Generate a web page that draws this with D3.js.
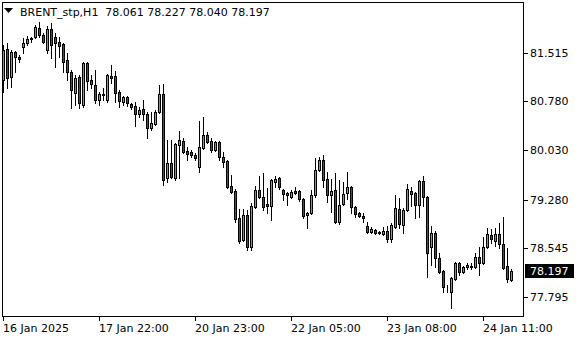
<!DOCTYPE html>
<html>
<head>
<meta charset="utf-8">
<script src="https://cdn.jsdelivr.net/npm/d3@7"></script>
<style>
  body { margin:0; background:#fff; }
  svg text { font-family:"DejaVu Sans", sans-serif; font-size:11px; fill:#000; }
</style>
</head>
<body>
<div id="chart"></div>
<script>
// BRENT_stp H1 candles (oldest first)
const OPEN = [81.103,81.576,81.149,81.530,81.454,81.606,81.667,81.728,81.759,81.896,
  81.789,81.561,81.881,81.759,81.683,81.652,81.408,81.225,80.905,81.149,
  80.722,81.362,81.103,81.027,80.798,80.875,80.798,81.164,81.164,80.920,
  80.768,80.844,80.737,80.707,80.585,80.661,80.585,80.372,80.433,80.615,
  80.890,79.609,79.838,79.609,80.112,80.173,80.021,80.006,79.960,79.777,
  80.067,80.265,80.173,80.036,80.158,79.929,79.868,79.487,79.411,78.999,
  78.664,79.045,78.557,79.167,79.426,79.320,79.213,79.182,79.548,79.609,
  79.426,79.381,79.320,79.411,79.411,79.289,79.045,79.076,79.350,79.731,
  79.884,79.594,79.350,79.426,78.938,79.213,79.381,79.472,79.167,79.076,
  79.030,78.877,78.786,78.816,78.786,78.755,78.801,78.679,78.862,79.137,
  78.893,79.121,79.411,79.381,79.198,79.564,79.320,78.557,78.771,78.390,
  78.191,77.947,77.871,78.069,78.313,78.176,78.252,78.252,78.252,78.405,
  78.313,78.557,78.740,78.649,78.755,78.603,78.268,78.061];
const HIGH = [81.637,81.667,81.561,81.545,81.484,81.744,81.774,81.759,81.942,81.988,
  81.820,81.927,81.972,81.820,81.759,81.667,81.515,81.256,81.180,81.180,
  81.378,81.378,81.180,81.256,80.920,80.981,81.195,81.332,81.240,80.951,
  80.859,80.859,80.753,80.768,80.692,80.798,80.615,80.615,80.646,81.027,
  81.042,80.189,80.189,80.143,80.326,80.219,80.082,80.036,79.990,80.478,
  80.539,80.311,80.219,80.173,80.173,80.006,79.884,79.655,79.442,79.137,
  79.137,79.121,79.228,79.487,79.640,79.685,79.457,79.594,79.640,79.625,
  79.442,79.396,79.426,79.472,79.426,79.304,79.091,79.426,79.914,79.929,
  79.960,79.701,79.594,79.685,79.579,79.548,79.701,79.487,79.182,79.091,
  79.076,78.938,78.862,78.832,78.801,78.862,78.877,78.923,79.350,79.304,
  79.152,79.518,79.472,79.396,79.579,79.640,79.335,78.877,78.801,78.466,
  78.207,77.978,78.100,78.329,78.329,78.268,78.313,78.313,78.466,78.557,
  78.710,78.847,78.832,78.847,78.923,79.015,78.542,78.227];
const LOW = [80.920,80.981,80.997,81.225,81.378,81.515,81.637,81.683,81.744,81.759,
  81.667,81.515,81.439,81.301,81.454,81.225,81.103,80.676,80.722,80.676,
  80.692,80.951,80.981,80.753,80.722,80.798,80.768,81.058,80.768,80.692,
  80.722,80.707,80.661,80.402,80.539,80.494,80.219,80.341,80.417,80.600,
  79.503,79.548,79.609,79.579,79.609,79.990,79.884,79.929,79.884,79.701,
  80.051,80.143,80.006,80.021,79.884,79.777,79.457,79.381,78.938,78.618,
  78.649,78.512,78.512,79.152,79.304,79.121,79.076,78.969,79.472,79.442,
  79.274,79.198,79.304,79.365,79.259,78.999,78.847,79.060,79.320,79.716,
  79.472,79.243,79.091,78.923,78.908,79.198,79.289,79.076,79.015,79.015,
  78.938,78.771,78.771,78.755,78.755,78.740,78.634,78.634,78.847,78.847,
  78.771,79.106,79.182,78.999,79.015,79.182,78.100,78.283,78.252,78.161,
  77.871,77.871,77.627,78.054,78.130,78.161,78.222,78.222,78.237,78.130,
  78.298,78.542,78.618,78.573,78.542,78.222,78.024,78.040];
const CLOSE = [81.561,81.134,81.530,81.454,81.423,81.667,81.728,81.744,81.911,81.789,
  81.683,81.881,81.637,81.667,81.622,81.378,81.225,80.951,81.134,80.753,
  81.362,81.088,81.042,80.798,80.890,80.890,81.180,81.134,80.905,80.783,
  80.844,80.753,80.692,80.585,80.646,80.585,80.372,80.448,80.615,80.890,
  79.579,79.838,79.625,80.128,80.189,80.006,79.975,79.960,79.914,80.082,
  80.265,80.158,80.036,80.158,79.929,79.853,79.472,79.396,78.984,78.649,
  79.045,78.557,79.182,79.426,79.320,79.167,79.182,79.579,79.594,79.472,
  79.365,79.350,79.396,79.381,79.289,79.030,79.076,79.350,79.731,79.884,
  79.579,79.350,79.411,78.938,79.198,79.365,79.472,79.167,79.060,79.030,
  78.999,78.786,78.832,78.771,78.771,78.801,78.679,78.893,79.152,78.908,
  79.121,79.442,79.365,79.198,79.564,79.320,78.466,78.771,78.390,78.176,
  77.947,77.947,78.085,78.313,78.176,78.252,78.283,78.268,78.405,78.313,
  78.557,78.755,78.679,78.755,78.603,78.237,78.069,78.197];

const PRICE_TICKS = [81.515, 80.780, 80.030, 79.280, 78.545, 77.795];
const TIME_TICK_BARS = [0, 24, 48, 72, 96, 120];
const TIME_TICK_LABELS = ["16 Jan 2025","17 Jan 22:00","20 Jan 23:00","22 Jan 05:00","23 Jan 08:00","24 Jan 11:00"];
const SYMBOL = "BRENT_stp,H1";

const totalW = 580, totalH = 340;
const frame = { left:2, right:523, top:2, bottom:316 };
const UP = "#22dd22", DOWN = "#dd1111";

const candles = OPEN.map((o,i) => ({ i, o, h:HIGH[i], l:LOW[i], c:CLOSE[i] }));
const last = candles[candles.length-1];

const svg = d3.select("#chart").append("svg")
  .attr("width", totalW).attr("height", totalH);

const x = d3.scaleLinear().domain([0, 127]).range([3, 511]);
const y = d3.scaleLinear().domain([77.795, 81.515]).range([297, 53]);
const px = v => Math.round(v);

// frame
svg.append("rect")
  .attr("x", frame.left + 0.5).attr("y", frame.top + 0.5)
  .attr("width", frame.right - frame.left).attr("height", frame.bottom - frame.top)
  .attr("fill", "none").attr("stroke", "#000");

// candles
const g = svg.append("g");
candles.forEach(d => {
  const cx = px(x(d.i));
  g.append("line")
    .attr("x1", cx + 0.5).attr("x2", cx + 0.5)
    .attr("y1", px(y(d.h))).attr("y2", px(y(d.l)) + 1)
    .attr("stroke", "#000");
  const top = px(y(Math.max(d.o, d.c))), bot = px(y(Math.min(d.o, d.c)));
  g.append("rect")
    .attr("x", cx - 0.5).attr("y", top + 0.5)
    .attr("width", 2).attr("height", Math.max(0, bot - top))
    .attr("fill", d.c >= d.o ? UP : DOWN)
    .attr("stroke", "#000").attr("shape-rendering", "crispEdges");
});

// price axis
const yAx = svg.append("g");
PRICE_TICKS.forEach(v => {
  const ty = px(y(v));
  yAx.append("line").attr("x1", frame.right).attr("x2", frame.right + 5)
    .attr("y1", ty + 0.5).attr("y2", ty + 0.5).attr("stroke", "#000");
  yAx.append("text").attr("x", 530).attr("y", ty + 4).text(v.toFixed(3));
});

// current price box
const ly = px(y(last.c));
svg.append("rect").attr("x", 525).attr("y", ly - 7).attr("width", 49).attr("height", 14).attr("fill", "#000");
svg.append("text").attr("x", 530).attr("y", ly + 4).style("fill", "#fff").text(last.c.toFixed(3));

// time axis
const xAx = svg.append("g");
TIME_TICK_BARS.forEach((b, k) => {
  const tx = px(x(b));
  xAx.append("line").attr("x1", tx + 0.5).attr("x2", tx + 0.5)
    .attr("y1", frame.bottom).attr("y2", frame.bottom + 5).attr("stroke", "#000");
  xAx.append("text").attr("x", tx).attr("y", 332).text(TIME_TICK_LABELS[k]);
});

// header
svg.append("path").attr("d", "M4,8 L13,8 L8.5,13 Z").attr("fill", "#000");
svg.append("text").attr("x", 20).attr("y", 16)
  .text(`${SYMBOL}  ${last.o.toFixed(3)} ${last.h.toFixed(3)} ${last.l.toFixed(3)} ${last.c.toFixed(3)}`)
  .attr("xml:space", "preserve").style("white-space", "pre");
</script>
</body>
</html>
